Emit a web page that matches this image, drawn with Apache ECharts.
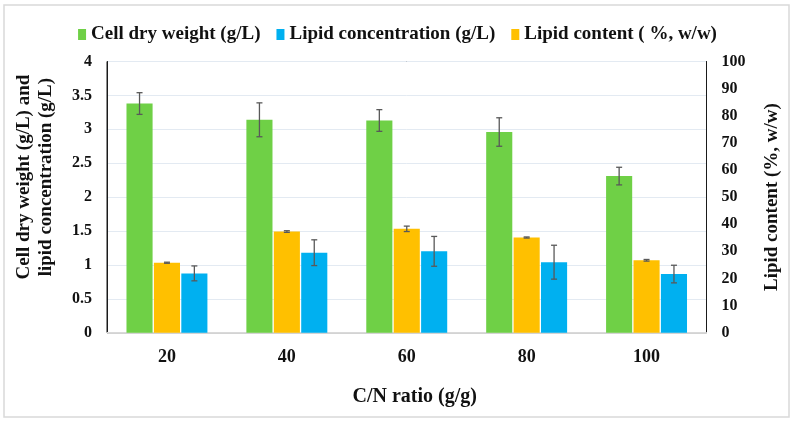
<!DOCTYPE html>
<html>
<head>
<meta charset="utf-8">
<script src="https://cdn.jsdelivr.net/npm/echarts@6/dist/echarts.min.js"></script>
<style>html,body{margin:0;padding:0;background:#fff}#c{width:795px;height:424px}</style>
</head>
<body>
<div id="c"></div>
<script>
var categories = ['20', '40', '60', '80', '100'];
var cellDryWeight = [3.38, 3.14, 3.13, 2.96, 2.31];
var cellDryWeightErr = [0.16, 0.25, 0.16, 0.21, 0.13];
var lipidContent = [25.8, 37.3, 38.3, 35.1, 26.7];
var lipidContentErr = [0.2, 0.3, 1.0, 0.2, 0.3];
var lipidConc = [0.875, 1.18, 1.20, 1.04, 0.865];
var lipidConcErr = [0.11, 0.19, 0.22, 0.25, 0.13];

var NAME_CDW = 'Cell dry weight (g/L)';
var NAME_CONC = 'Lipid concentration (g/L)';
var NAME_CONT = 'Lipid content ( %, w/w)';

var FONT = '"Liberation Serif", "Times New Roman", serif';
var CAT_GAP = 0.325, BAR_GAP = 0.05;

function errData(vals, errs) {
  return vals.map(function (v, i) { return [i, v, errs[i]]; });
}
function errSeries(vals, errs, slot, yIdx) {
  return {
    type: 'custom',
    yAxisIndex: yIdx,
    silent: true,
    z: 10,
    data: errData(vals, errs),
    renderItem: function (params, api) {
      var i = api.value(0), v = api.value(1), e = api.value(2);
      var band = api.size([1, 0])[0];
      var bw = band * (1 - CAT_GAP) / (3 + 2 * BAR_GAP);
      var off = (slot - 1) * bw * (1 + BAR_GAP);
      var top = api.coord([i, v + e]);
      var bot = api.coord([i, v - e]);
      var x = top[0] + off;
      var cap = 3;
      var st = { stroke: '#595959', lineWidth: 1.3 };
      return {
        type: 'group',
        children: [
          { type: 'line', shape: { x1: x, y1: top[1], x2: x, y2: bot[1] }, style: st },
          { type: 'line', shape: { x1: x - cap, y1: top[1], x2: x + cap, y2: top[1] }, style: st },
          { type: 'line', shape: { x1: x - cap, y1: bot[1], x2: x + cap, y2: bot[1] }, style: st }
        ]
      };
    }
  };
}

var chart = echarts.init(document.getElementById('c'), null, { renderer: 'canvas' });
chart.setOption({
  animation: false,
  backgroundColor: '#fff',
  textStyle: { fontFamily: FONT },
  graphic: [{
    type: 'rect', shape: { x: 4, y: 5, width: 785, height: 412 },
    style: { fill: 'none', stroke: '#D9D9D9', lineWidth: 1.5 }, silent: true, z: -10
  }],
  legend: {
    data: [NAME_CDW, NAME_CONC, NAME_CONT],
    top: 20,
    left: 'center',
    itemWidth: 8,
    itemHeight: 11,
    itemGap: 16,
    icon: 'rect',
    textStyle: { fontFamily: FONT, fontWeight: 'bold', fontSize: 19, color: '#111' }
  },
  grid: {
    left: 107, right: 88.5, top: 61.5, bottom: 91.3,
    show: true, borderColor: '#1a1a1a', borderWidth: 1, backgroundColor: 'transparent'
  },
  xAxis: {
    type: 'category',
    data: categories,
    name: 'C/N ratio (g/g)',
    nameLocation: 'middle',
    nameGap: 54,
    nameTextStyle: { fontFamily: FONT, fontWeight: 'bold', fontSize: 20, color: '#111', padding: [0, 0, 0, 16] },
    axisLine: { show: true, lineStyle: { color: '#D9D9D9', width: 1 } },
    axisTick: { show: false },
    axisLabel: { margin: 16, fontFamily: FONT, fontWeight: 'bold', fontSize: 18, color: '#111' }
  },
  yAxis: [{
    type: 'value',
    min: 0, max: 4, interval: 0.5,
    name: 'Cell dry weight (g/L) and\nlipid concentration (g/L)',
    nameLocation: 'middle',
    nameGap: 50,
    nameTextStyle: { fontFamily: FONT, fontWeight: 'bold', fontSize: 19, color: '#111', lineHeight: 22, padding: [0, 0, 0, 40] },
    axisLine: { show: true, lineStyle: { color: '#1a1a1a', width: 1 } },
    axisTick: { show: false },
    axisLabel: { margin: 15, fontFamily: FONT, fontWeight: 'bold', fontSize: 16, color: '#111' },
    splitLine: { show: true, lineStyle: { color: '#E3EAF2', width: 1 } }
  }, {
    type: 'value',
    min: 0, max: 100, interval: 10,
    name: 'Lipid content (%, w/w)',
    nameLocation: 'middle',
    nameGap: 56,
    nameTextStyle: { fontFamily: FONT, fontWeight: 'bold', fontSize: 19, color: '#111' },
    axisLine: { show: true, lineStyle: { color: '#1a1a1a', width: 1 } },
    axisTick: { show: false },
    axisLabel: { margin: 15, fontFamily: FONT, fontWeight: 'bold', fontSize: 16, color: '#111' },
    splitLine: { show: false }
  }],
  series: [
    { name: NAME_CDW, type: 'bar', yAxisIndex: 0, data: cellDryWeight,
      barCategoryGap: (CAT_GAP * 100) + '%', barGap: (BAR_GAP * 100) + '%',
      itemStyle: { color: '#6FD046' } },
    { name: NAME_CONT, type: 'bar', yAxisIndex: 1, data: lipidContent,
      barCategoryGap: (CAT_GAP * 100) + '%', barGap: (BAR_GAP * 100) + '%',
      itemStyle: { color: '#FFC000' } },
    { name: NAME_CONC, type: 'bar', yAxisIndex: 0, data: lipidConc,
      barCategoryGap: (CAT_GAP * 100) + '%', barGap: (BAR_GAP * 100) + '%',
      itemStyle: { color: '#00B0F0' } },
    errSeries(cellDryWeight, cellDryWeightErr, 0, 0),
    errSeries(lipidContent, lipidContentErr, 1, 1),
    errSeries(lipidConc, lipidConcErr, 2, 0)
  ]
});
</script>
</body>
</html>
